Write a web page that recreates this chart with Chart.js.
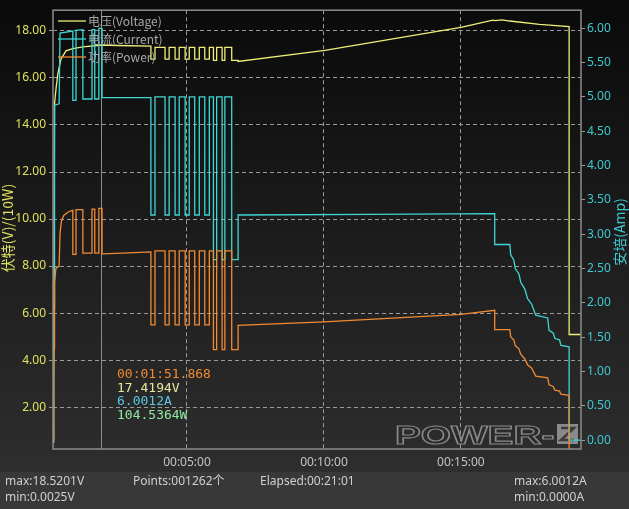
<!DOCTYPE html>
<html>
<head>
<meta charset="utf-8">
<script src="https://cdn.jsdelivr.net/npm/chart.js@4/dist/chart.umd.min.js"></script>
<style>
  html, body { margin: 0; padding: 0; background: #1a1a1a; }
  canvas { display: block; }
</style>
</head>
<body>
<canvas id="chart" width="629" height="509"></canvas>
<script>
// time in seconds
const voltagePts = [
  [6.6, 0.5], [8, 2.6], [10, 14.9], [13, 15.5], [17, 16.15], [24, 16.8], [35, 17.15],
  [50, 17.25], [72, 17.32], [114, 17.4], [150, 17.38], [221, 17.35],
  [221, 16.8], [230, 16.8], [230, 17.3], [252, 17.3], [252, 16.8], [261, 16.8], [261, 17.3],
  [274, 17.3], [274, 16.8], [283, 16.8], [283, 17.3], [296, 17.3], [296, 16.8], [305, 16.8],
  [305, 17.3], [317, 17.3], [317, 16.8], [327, 16.8], [327, 17.3], [339, 17.3], [339, 16.8],
  [349, 16.8], [349, 17.3], [358, 17.3], [358, 16.75], [365, 16.75], [365, 17.3], [377, 17.3],
  [377, 16.75], [383, 16.75], [383, 17.3], [398, 17.3], [398, 16.75], [412, 16.75],
  [412, 16.7], [602, 17.17], [900, 18.15], [970, 18.46], [975, 18.44], [990, 18.47],
  [1007, 18.42], [1072, 18.28], [1137, 18.18], [1137, 5.09], [1162, 5.09]
];
const currentPts = [
  [6.6, 0], [8, 1.3], [9, 1.9], [10, 4.88], [20, 4.9], [22, 5.93], [50, 5.96],
  [50, 4.95], [57, 4.95], [57, 5.97], [72, 5.98], [72, 4.97], [92, 4.97], [92, 5.98],
  [98, 5.98], [98, 4.97], [107, 4.97], [107, 6.0], [114, 6.0], [114, 4.99], [221, 4.99],
  [221, 3.28], [230, 3.28], [230, 5.0], [252, 5.0], [252, 3.28], [261, 3.28], [261, 5.0],
  [274, 5.0], [274, 3.28], [283, 3.28], [283, 5.0], [296, 5.0], [296, 3.28], [305, 3.28],
  [305, 5.0], [317, 5.0], [317, 3.28], [327, 3.28], [327, 5.0], [339, 5.0], [339, 3.28],
  [349, 3.28], [349, 5.0], [358, 5.0], [358, 2.63], [365, 2.63], [365, 5.0], [377, 5.0],
  [377, 2.63], [383, 2.63], [383, 5.0], [398, 5.0], [398, 2.63], [412, 2.63], [412, 3.28],
  [700, 3.29], [974, 3.3], [974, 2.85], [1007, 2.85], [1009, 2.7], [1016, 2.62], [1019, 2.5],
  [1027, 2.42], [1031, 2.3], [1040, 2.2], [1046, 2.06], [1055, 1.98], [1064, 1.82],
  [1090, 1.78], [1093, 1.6], [1102, 1.56], [1106, 1.48], [1116, 1.46], [1119, 1.38],
  [1137, 1.36], [1137, 0], [1162, 0]
];
// power in units of 10 W (shares the left axis)
const powerPts = [
  [6.6, 0.6], [8, 3.3], [9, 4.5], [10, 7.3], [13, 7.9], [20, 8.0], [22, 9.4], [25, 9.9],
  [30, 10.15], [40, 10.3], [50, 10.38], [50, 8.5], [57, 8.5], [57, 10.4], [72, 10.4],
  [72, 8.55], [92, 8.55], [92, 10.42], [98, 10.42], [98, 8.55], [107, 8.55], [107, 10.45],
  [114, 10.45], [114, 8.52], [160, 8.55], [221, 8.6],
  [221, 5.5], [230, 5.5], [230, 8.65], [252, 8.65], [252, 5.5], [261, 5.5], [261, 8.65],
  [274, 8.65], [274, 5.5], [283, 5.5], [283, 8.65], [296, 8.65], [296, 5.5], [305, 5.5],
  [305, 8.65], [317, 8.65], [317, 5.5], [327, 5.5], [327, 8.65], [339, 8.65], [339, 5.5],
  [349, 5.5], [349, 8.65], [358, 8.65], [358, 4.45], [365, 4.45], [365, 8.65], [377, 8.65],
  [377, 4.45], [383, 4.45], [383, 8.65], [398, 8.65], [398, 4.45], [412, 4.45], [412, 5.48],
  [600, 5.63], [900, 5.95], [974, 6.12], [974, 5.3], [1007, 5.3], [1009, 5.0], [1016, 4.85],
  [1019, 4.62], [1027, 4.48], [1031, 4.25], [1040, 4.05], [1046, 3.8], [1055, 3.66],
  [1064, 3.32], [1090, 3.25], [1093, 2.95], [1102, 2.88], [1106, 2.72], [1116, 2.68],
  [1119, 2.55], [1137, 2.5], [1137, 0], [1162, 0]
];

const leftTicks = [2, 4, 6, 8, 10, 12, 14, 16, 18];
const rightTicks = [0, 0.5, 1, 1.5, 2, 2.5, 3, 3.5, 4, 4.5, 5, 5.5, 6];
const timeTicks = [300, 600, 900];
const legendLabels = ['电压(Voltage)', '电流(Current)', '功率(Power)'];
const cursorTime = 111.868;
const readout = ['00:01:51.868', '17.4194V', '6.0012A', '104.5364W'];
const statusLeft = ['max:18.5201V', 'min:0.0025V'];
const statusRight = ['max:6.0012A', 'min:0.0000A'];
const statusPoints = 'Points:001262个';
const statusElapsed = 'Elapsed:00:21:01';

const YELLOW = '#eeee78';
const CYAN = '#3fd6d6';
const ORANGE = '#f28a32';
const UI_FONT = '"Noto Sans", "Noto Sans CJK SC", sans-serif';
const CJK_FONT = '"Noto Sans CJK SC", sans-serif';

function hms(s) {
  const h = Math.floor(s / 3600), m = Math.floor(s / 60) % 60, sec = Math.round(s % 60);
  const p = n => String(n).padStart(2, '0');
  return p(h) + ':' + p(m) + ':' + p(sec);
}
const toXY = pts => pts.map(p => ({ x: p[0], y: p[1] }));

const decor = {
  id: 'decor',
  beforeDraw(chart) {
    const ctx = chart.ctx;
    const g = ctx.createLinearGradient(0, 0, 0, 472);
    g.addColorStop(0, '#0a0a0a');
    g.addColorStop(1, '#2e2e2e');
    ctx.save();
    ctx.fillStyle = g;
    ctx.fillRect(0, 0, chart.width, 472);
    ctx.fillStyle = '#383838';
    ctx.fillRect(0, 472, chart.width, chart.height - 472);
    ctx.restore();
  },
  beforeDatasetsDraw(chart) {
    const ctx = chart.ctx, a = chart.chartArea;
    ctx.save();
    // watermark
    ctx.translate(395, 444);
    ctx.scale(1.55, 1);
    ctx.font = 'bold 25px "Liberation Sans"';
    ctx.strokeStyle = '#8a8a8a';
    ctx.lineWidth = 1.1;
    ctx.strokeText('POWER-', 0, 0);
    ctx.setTransform(1, 0, 0, 1, 0, 0);
    ctx.fillStyle = '#8a8a8a';
    ctx.fillRect(557, 424, 21, 20);
    ctx.strokeStyle = '#3c3c3c';
    ctx.lineWidth = 2.5;
    ctx.beginPath();
    ctx.moveTo(561, 428); ctx.lineTo(574, 428); ctx.lineTo(561, 440); ctx.lineTo(574, 440);
    ctx.stroke();
    // cursor
    const cx = Math.round(chart.scales.x.getPixelForValue(cursorTime)) + 0.5;
    ctx.strokeStyle = '#8c8c8c';
    ctx.lineWidth = 1;
    ctx.beginPath();
    ctx.moveTo(cx, a.top); ctx.lineTo(cx, a.bottom);
    ctx.stroke();
    ctx.restore();
  },
  afterDatasetsDraw(chart) {
    const ctx = chart.ctx, a = chart.chartArea;
    ctx.save();
    // frame
    ctx.strokeStyle = '#8c8c8c';
    ctx.lineWidth = 1.5;
    ctx.strokeRect(a.left, a.top, a.right - a.left, a.bottom - a.top);
    // legend
    const cols = [YELLOW, CYAN, ORANGE];
    ctx.font = '12px ' + CJK_FONT;
    ctx.textBaseline = 'middle';
    legendLabels.forEach((t, i) => {
      const y = 21 + i * 18;
      ctx.strokeStyle = cols[i];
      ctx.lineWidth = 1.3;
      ctx.beginPath(); ctx.moveTo(58, y); ctx.lineTo(86, y); ctx.stroke();
      ctx.fillStyle = '#a8a8a8';
      ctx.fillText(t, 88, y);
    });
    // readout
    const rc = ['#f08a30', '#e6e6a0', '#5cc6e6', '#8ee8a0'];
    ctx.font = '13px "DejaVu Sans Mono"';
    readout.forEach((t, i) => {
      ctx.fillStyle = rc[i];
      ctx.fillText(t, 117, 375 + i * 13.5);
    });
    // axis titles
    ctx.font = '14px ' + CJK_FONT;
    ctx.textAlign = 'center';
    ctx.fillStyle = '#e0e060';
    ctx.translate(8, 228); ctx.rotate(-Math.PI / 2);
    ctx.fillText('伏特(V)/(10W)', 0, 0);
    ctx.setTransform(1, 0, 0, 1, 0, 0);
    ctx.fillStyle = '#3fc8d0';
    ctx.translate(620, 232); ctx.rotate(-Math.PI / 2);
    ctx.fillText('安培(Amp)', 0, 0);
    ctx.setTransform(1, 0, 0, 1, 0, 0);
    // status bar
    ctx.textAlign = 'left';
    ctx.font = '12px ' + UI_FONT;
    ctx.fillStyle = '#cfcfcf';
    ctx.fillText(statusLeft[0], 5, 482);
    ctx.fillText(statusLeft[1], 5, 498);
    ctx.fillText(statusPoints, 133, 482);
    ctx.fillText(statusElapsed, 260, 482);
    ctx.fillText(statusRight[0], 514, 482);
    ctx.fillText(statusRight[1], 514, 498);
    ctx.restore();
  }
};

new Chart(document.getElementById('chart'), {
  type: 'line',
  data: {
    datasets: [
      { label: legendLabels[0], data: toXY(voltagePts), borderColor: YELLOW, yAxisID: 'y', order: 3 },
      { label: legendLabels[1], data: toXY(currentPts), borderColor: CYAN, yAxisID: 'y1', order: 2 },
      { label: legendLabels[2], data: toXY(powerPts), borderColor: ORANGE, yAxisID: 'y', order: 1 }
    ]
  },
  options: {
    responsive: false,
    animation: false,
    devicePixelRatio: 1,
    layout: { padding: { top: 5, left: 0, right: 0, bottom: 0 } },
    elements: {
      point: { radius: 0 },
      line: { borderWidth: 1.3, tension: 0, fill: false }
    },
    datasets: { line: { clip: 0 } },
    plugins: { legend: { display: false }, tooltip: { enabled: false } },
    scales: {
      x: {
        type: 'linear',
        min: 6.6,
        max: 1163,
        afterBuildTicks: s => { s.ticks = timeTicks.map(v => ({ value: v })); },
        afterFit: s => { s.height = 60; },
        border: { display: false, dash: [4, 3] },
        grid: { color: '#9a9a9a', drawTicks: false },
        ticks: {
          padding: 6,
          color: '#c4c4c4',
          font: { family: UI_FONT, size: 12 },
          maxRotation: 0,
          autoSkip: false,
          callback: v => hms(v)
        }
      },
      y: {
        position: 'left',
        min: 0.222,
        max: 18.88,
        afterBuildTicks: s => { s.ticks = leftTicks.map(v => ({ value: v })); },
        afterFit: s => { s.width = 53; },
        border: { display: false, dash: [4, 3] },
        grid: { color: '#9a9a9a', tickLength: 4, tickBorderDash: [0, 0], tickColor: '#9a9a9a' },
        ticks: {
          padding: 3,
          color: '#e0e060',
          font: { family: UI_FONT, size: 12 },
          callback: v => v.toFixed(2)
        }
      },
      y1: {
        position: 'right',
        min: -0.13,
        max: 6.264,
        afterBuildTicks: s => { s.ticks = rightTicks.map(v => ({ value: v })); },
        afterFit: s => { s.width = 48; },
        border: { display: false },
        grid: { drawOnChartArea: false, tickLength: 4, tickColor: '#9a9a9a' },
        ticks: {
          padding: 2,
          color: '#3fc8d0',
          font: { family: UI_FONT, size: 12 },
          callback: v => v.toFixed(2)
        }
      }
    }
  },
  plugins: [decor]
});
</script>
</body>
</html>
